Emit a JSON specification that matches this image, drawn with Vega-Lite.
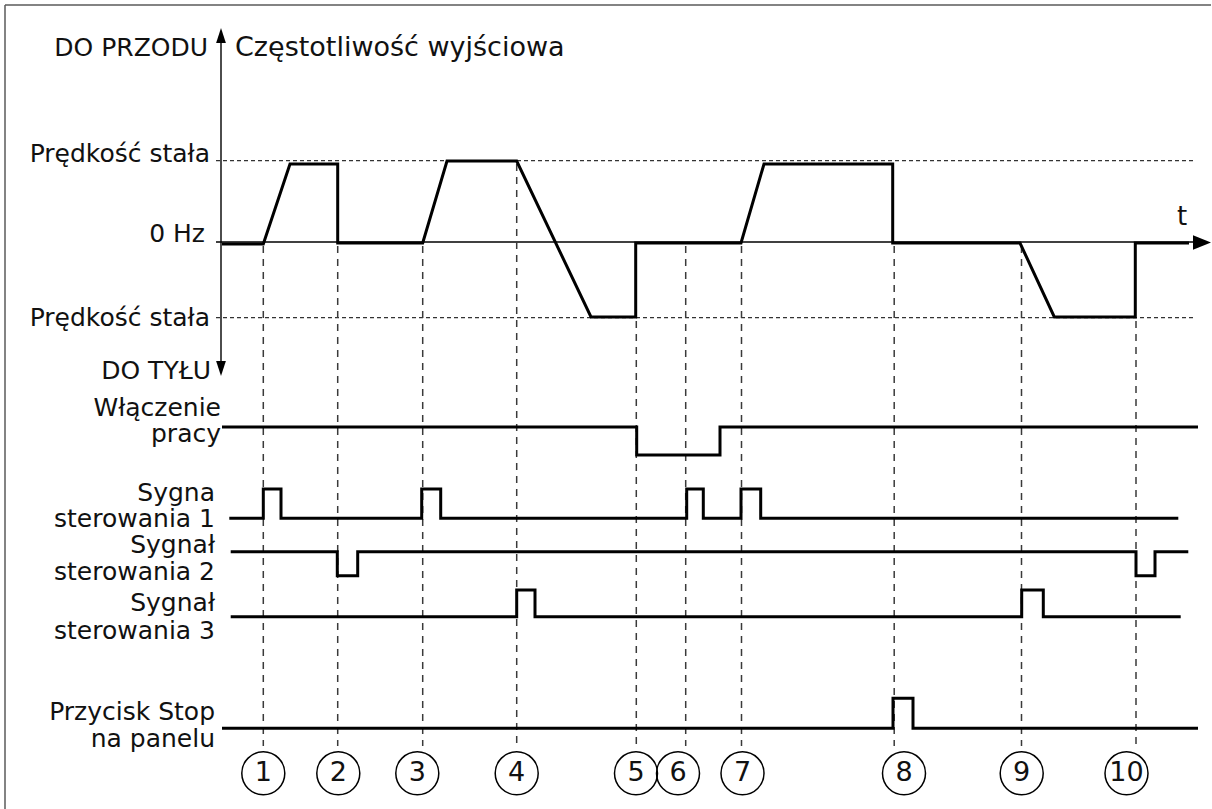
{
  "$schema": "https://vega.github.io/schema/vega-lite/v6.json",
  "width": 1212,
  "height": 809,
  "padding": 0,
  "autosize": {"type": "fit", "contains": "padding"},
  "background": "white",
  "view": {"stroke": null},
  "config": {"font": "DejaVu Sans"},
  "datasets": {
    "border": [
      {"x": 5, "x2": 5, "y": 5, "y2": 809},
      {"x": 5, "x2": 1211, "y": 5, "y2": 5}
    ],
    "hrules": [
      {"x": 216, "x2": 1196, "y": 242}
    ],
    "vrules": [
      {"x": 221, "y": 32, "y2": 372}
    ],
    "dotted": [
      {"x": 216, "x2": 1193, "y": 160.7},
      {"x": 216, "x2": 1193, "y": 317.7}
    ],
    "events": [
      {"e": 1, "x": 263.3, "y": 246, "y2": 746},
      {"e": 2, "x": 337.7, "y": 246, "y2": 746},
      {"e": 3, "x": 422.7, "y": 246, "y2": 746},
      {"e": 4, "x": 516.7, "y": 164, "y2": 746},
      {"e": 5, "x": 636.3, "y": 321, "y2": 746},
      {"e": 6, "x": 685.7, "y": 246, "y2": 746},
      {"e": 7, "x": 741.5, "y": 246, "y2": 746},
      {"e": 8, "x": 894.2, "y": 246, "y2": 746},
      {"e": 9, "x": 1021.5, "y": 246, "y2": 746},
      {"e": 10, "x": 1136, "y": 321, "y2": 746}
    ],
    "traces": [
      {"s": "freq", "i": 0, "x": 222, "y": 244},
      {"s": "freq", "i": 1, "x": 263.3, "y": 244},
      {"s": "freq", "i": 2, "x": 290, "y": 164},
      {"s": "freq", "i": 3, "x": 337.7, "y": 164},
      {"s": "freq", "i": 4, "x": 337.7, "y": 243},
      {"s": "freq", "i": 5, "x": 422.7, "y": 243},
      {"s": "freq", "i": 6, "x": 447, "y": 161},
      {"s": "freq", "i": 7, "x": 516.7, "y": 161},
      {"s": "freq", "i": 8, "x": 591, "y": 317},
      {"s": "freq", "i": 9, "x": 635.7, "y": 317},
      {"s": "freq", "i": 10, "x": 635.7, "y": 243},
      {"s": "freq", "i": 11, "x": 741, "y": 243},
      {"s": "freq", "i": 12, "x": 764, "y": 164},
      {"s": "freq", "i": 13, "x": 892.7, "y": 164},
      {"s": "freq", "i": 14, "x": 892.7, "y": 243},
      {"s": "freq", "i": 15, "x": 1020, "y": 243},
      {"s": "freq", "i": 16, "x": 1054.3, "y": 317},
      {"s": "freq", "i": 17, "x": 1135.3, "y": 317},
      {"s": "freq", "i": 18, "x": 1135.3, "y": 243},
      {"s": "freq", "i": 19, "x": 1189, "y": 243},

      {"s": "run", "i": 0, "x": 222, "y": 427},
      {"s": "run", "i": 1, "x": 636.7, "y": 427},
      {"s": "run", "i": 2, "x": 636.7, "y": 455},
      {"s": "run", "i": 3, "x": 720, "y": 455},
      {"s": "run", "i": 4, "x": 720, "y": 427},
      {"s": "run", "i": 5, "x": 1198, "y": 427},

      {"s": "s1", "i": 0, "x": 229.3, "y": 518.3},
      {"s": "s1", "i": 1, "x": 263.3, "y": 518.3},
      {"s": "s1", "i": 2, "x": 263.3, "y": 489},
      {"s": "s1", "i": 3, "x": 281, "y": 489},
      {"s": "s1", "i": 4, "x": 281, "y": 518.3},
      {"s": "s1", "i": 5, "x": 421.7, "y": 518.3},
      {"s": "s1", "i": 6, "x": 421.7, "y": 489},
      {"s": "s1", "i": 7, "x": 440.7, "y": 489},
      {"s": "s1", "i": 8, "x": 440.7, "y": 518.3},
      {"s": "s1", "i": 9, "x": 686.7, "y": 518.3},
      {"s": "s1", "i": 10, "x": 686.7, "y": 489},
      {"s": "s1", "i": 11, "x": 703.3, "y": 489},
      {"s": "s1", "i": 12, "x": 703.3, "y": 518.3},
      {"s": "s1", "i": 13, "x": 741, "y": 518.3},
      {"s": "s1", "i": 14, "x": 741, "y": 489},
      {"s": "s1", "i": 15, "x": 760.7, "y": 489},
      {"s": "s1", "i": 16, "x": 760.7, "y": 518.3},
      {"s": "s1", "i": 17, "x": 1178.3, "y": 518.3},

      {"s": "s2", "i": 0, "x": 230.7, "y": 551.7},
      {"s": "s2", "i": 1, "x": 337.3, "y": 551.7},
      {"s": "s2", "i": 2, "x": 337.3, "y": 575.7},
      {"s": "s2", "i": 3, "x": 357.7, "y": 575.7},
      {"s": "s2", "i": 4, "x": 357.7, "y": 551.7},
      {"s": "s2", "i": 5, "x": 1136, "y": 551.7},
      {"s": "s2", "i": 6, "x": 1136, "y": 575.7},
      {"s": "s2", "i": 7, "x": 1155, "y": 575.7},
      {"s": "s2", "i": 8, "x": 1155, "y": 551.7},
      {"s": "s2", "i": 9, "x": 1188.3, "y": 551.7},

      {"s": "s3", "i": 0, "x": 230.7, "y": 616.7},
      {"s": "s3", "i": 1, "x": 516.7, "y": 616.7},
      {"s": "s3", "i": 2, "x": 516.7, "y": 590},
      {"s": "s3", "i": 3, "x": 535, "y": 590},
      {"s": "s3", "i": 4, "x": 535, "y": 616.7},
      {"s": "s3", "i": 5, "x": 1021.7, "y": 616.7},
      {"s": "s3", "i": 6, "x": 1021.7, "y": 590},
      {"s": "s3", "i": 7, "x": 1043.3, "y": 590},
      {"s": "s3", "i": 8, "x": 1043.3, "y": 616.7},
      {"s": "s3", "i": 9, "x": 1180.7, "y": 616.7},

      {"s": "stop", "i": 0, "x": 222, "y": 728.3},
      {"s": "stop", "i": 1, "x": 893, "y": 728.3},
      {"s": "stop", "i": 2, "x": 893, "y": 698.3},
      {"s": "stop", "i": 3, "x": 913, "y": 698.3},
      {"s": "stop", "i": 4, "x": 913, "y": 728.3},
      {"s": "stop", "i": 5, "x": 1198, "y": 728.3}
    ],
    "arrows": [
      {"dir": "up", "x": 221, "y": 35.5},
      {"dir": "down", "x": 221, "y": 368.5},
      {"dir": "right", "x": 1202, "y": 242.5}
    ],
    "circles": [
      {"n": "1", "x": 263.3, "y": 773.3},
      {"n": "2", "x": 338.3, "y": 773.3},
      {"n": "3", "x": 417.3, "y": 773.3},
      {"n": "4", "x": 516.7, "y": 773.3},
      {"n": "5", "x": 636, "y": 773.3},
      {"n": "6", "x": 678, "y": 773.3},
      {"n": "7", "x": 742.5, "y": 773.3},
      {"n": "8", "x": 904, "y": 773.3},
      {"n": "9", "x": 1021.7, "y": 773.3},
      {"n": "10", "x": 1126.5, "y": 773.3}
    ],
    "rlabels": [
      {"t": "DO PRZODU", "x": 208, "y": 56},
      {"t": "Prędkość stała", "x": 210, "y": 162},
      {"t": "0 Hz", "x": 205, "y": 242},
      {"t": "Prędkość stała", "x": 210, "y": 325.5},
      {"t": "DO TYŁU", "x": 211, "y": 378.5},
      {"t": "Włączenie", "x": 221, "y": 416},
      {"t": "pracy", "x": 221, "y": 442},
      {"t": "Sygna", "x": 215, "y": 501},
      {"t": "sterowania 1", "x": 215, "y": 527},
      {"t": "Sygnał", "x": 215, "y": 553},
      {"t": "sterowania 2", "x": 215, "y": 579.5},
      {"t": "Sygnał", "x": 215, "y": 610.5},
      {"t": "sterowania 3", "x": 215, "y": 638.5},
      {"t": "Przycisk Stop", "x": 215, "y": 720},
      {"t": "na panelu", "x": 215, "y": 747}
    ],
    "llabels": [
      {"t": "Częstotliwość wyjściowa", "x": 235, "y": 56}
    ],
    "clabels": [
      {"t": "t", "x": 1182, "y": 225}
    ]
  },
  "encoding": {
    "x": {"field": "x", "type": "quantitative", "scale": {"domain": [0, 1212], "nice": false, "zero": false}, "axis": null},
    "y": {"field": "y", "type": "quantitative", "scale": {"domain": [0, 809], "nice": false, "zero": false, "reverse": true}, "axis": null}
  },
  "layer": [
    {
      "data": {"name": "border"},
      "mark": {"type": "rule", "color": "#5a5a5a", "strokeWidth": 1.5, "clip": true},
      "encoding": {"x2": {"field": "x2"}, "y2": {"field": "y2"}}
    },
    {
      "data": {"name": "hrules"},
      "mark": {"type": "rule", "color": "#000000", "strokeWidth": 1.4},
      "encoding": {"x2": {"field": "x2"}}
    },
    {
      "data": {"name": "vrules"},
      "mark": {"type": "rule", "color": "#000000", "strokeWidth": 1.4},
      "encoding": {"y2": {"field": "y2"}}
    },
    {
      "data": {"name": "dotted"},
      "mark": {"type": "rule", "color": "#333333", "strokeWidth": 1.2, "strokeDash": [4, 3]},
      "encoding": {"x2": {"field": "x2"}}
    },
    {
      "data": {"name": "events"},
      "mark": {"type": "rule", "color": "#3a3a3a", "strokeWidth": 1.5, "strokeDash": [7, 6]},
      "encoding": {"y2": {"field": "y2"}}
    },
    {
      "data": {"name": "traces"},
      "mark": {"type": "line", "color": "#000000", "strokeWidth": 3, "strokeJoin": "miter", "strokeCap": "butt"},
      "encoding": {"detail": {"field": "s"}, "order": {"field": "i", "type": "quantitative"}}
    },
    {
      "data": {"name": "arrows"},
      "transform": [{"filter": "datum.dir === 'up'"}],
      "mark": {"type": "point", "shape": "M0,-1L0.65,1L-0.65,1Z", "size": 225, "filled": true, "color": "#000000", "opacity": 1}
    },
    {
      "data": {"name": "arrows"},
      "transform": [{"filter": "datum.dir === 'down'"}],
      "mark": {"type": "point", "shape": "M0,1L0.65,-1L-0.65,-1Z", "size": 225, "filled": true, "color": "#000000", "opacity": 1}
    },
    {
      "data": {"name": "arrows"},
      "transform": [{"filter": "datum.dir === 'right'"}],
      "mark": {"type": "point", "shape": "M1,0L-1,-0.8L-1,0.8Z", "size": 324, "filled": true, "color": "#000000", "opacity": 1}
    },
    {
      "data": {"name": "circles"},
      "mark": {"type": "point", "shape": "circle", "size": 1849, "filled": false, "stroke": "#000000", "strokeWidth": 1.5, "opacity": 1}
    },
    {
      "data": {"name": "circles"},
      "mark": {"type": "text", "align": "center", "baseline": "middle", "fontSize": 27, "font": "DejaVu Sans", "color": "#111111"},
      "encoding": {"text": {"field": "n"}}
    },
    {
      "data": {"name": "rlabels"},
      "mark": {"type": "text", "align": "right", "baseline": "alphabetic", "fontSize": 25, "font": "DejaVu Sans", "color": "#111111"},
      "encoding": {"text": {"field": "t"}}
    },
    {
      "data": {"name": "llabels"},
      "mark": {"type": "text", "align": "left", "baseline": "alphabetic", "fontSize": 27, "font": "DejaVu Sans", "color": "#111111"},
      "encoding": {"text": {"field": "t"}}
    },
    {
      "data": {"name": "clabels"},
      "mark": {"type": "text", "align": "center", "baseline": "alphabetic", "fontSize": 26, "font": "DejaVu Sans", "color": "#111111"},
      "encoding": {"text": {"field": "t"}}
    }
  ]
}
